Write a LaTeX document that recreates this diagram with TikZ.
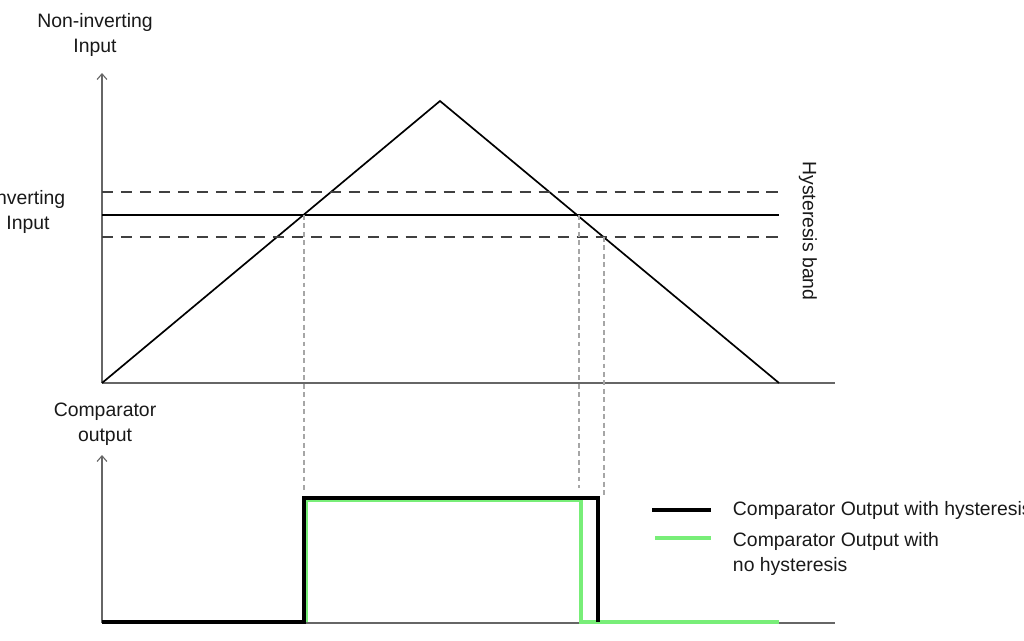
\documentclass[tikz,border=0pt]{standalone}
\usepackage{fontspec}
\setmainfont{Liberation Sans}
\usetikzlibrary{positioning, arrows.meta}
\definecolor{litegreen}{RGB}{120,238,120}

\begin{document}
\begin{tikzpicture}[x=0.025cm, y=-0.025cm,
	axis/.style={draw=black!60, line width=0.8pt},
	tip/.style={-{Straight Barb[length=4pt, width=7pt]}},
	ramp/.style={draw=black, line width=1.2pt},
	band/.style={draw=black!75, line width=1.1pt, dash pattern=on 8pt off 5.5pt},
	guide/.style={draw=black!35, line width=0.8pt, dash pattern=on 3.5pt off 2.5pt},
	hyst/.style={draw=black, line width=2.8pt},
	nohyst/.style={draw=litegreen, line width=2.8pt},
	lbl/.style={font=\fontsize{13.8}{17.8}\selectfont, align=center, text=black!90}]
	\useasboundingbox (0,0) rectangle (1024,640);

	% input plot
	\coordinate (o_in) at (102,383);
	\coordinate (peak) at (440,101);
	\coordinate (e_in) at (779,383);
	\draw [axis, tip] (o_in) -- (102,73);
	\draw [axis] (o_in) -- (835,383);
	\draw [ramp] (o_in) -- (peak) -- (e_in);
	\draw [band] (102,192) -- (779,192);
	\draw [ramp] (102,215) -- (779,215);
	\draw [band] (102,237) -- (779,237);

	% crossings
	\coordinate (up) at (304,215);
	\coordinate (dn) at (579,215);
	\coordinate (dnlo) at (604,237);
	\draw [guide] (up) -- (304,492);
	\draw [guide] (dn) -- (579,488);
	\draw [guide] (dnlo) -- (604,497);

	% output plot
	\coordinate (o_out) at (102,623);
	\draw [axis, tip] (o_out) -- (102,455);
	\draw [axis] (o_out) -- (835,623);
	\draw [nohyst] (306.5,622) -- (306.5,500.5) -- (581,500.5) -- (581,622) -- (779,622);
	\draw [hyst] (102,622) -- (304,622) -- (304,498) -- (598,498) -- (598,622);

	% legend
	\draw [hyst] (652,510) -- (711,510);
	\draw [nohyst] (655,538) -- (711,538);
	\node [lbl, anchor=west] (l_hyst) at (728,510) {Comparator Output with hysteresis};
	\node [lbl, anchor=north west, align=left] (l_nohyst) at (728,527) {Comparator Output with\\no hysteresis};

	% labels
	\node [lbl] (noninv) at (95,35) {Non-inverting\\Input};
	\node [lbl] (inv) at (28,212) {Inverting\\Input};
	\node [lbl] (compout) at (105,424) {Comparator\\output};
	\node [lbl, rotate=-90] (hband) at (808,231) {Hysteresis band};
\end{tikzpicture}
\end{document}
